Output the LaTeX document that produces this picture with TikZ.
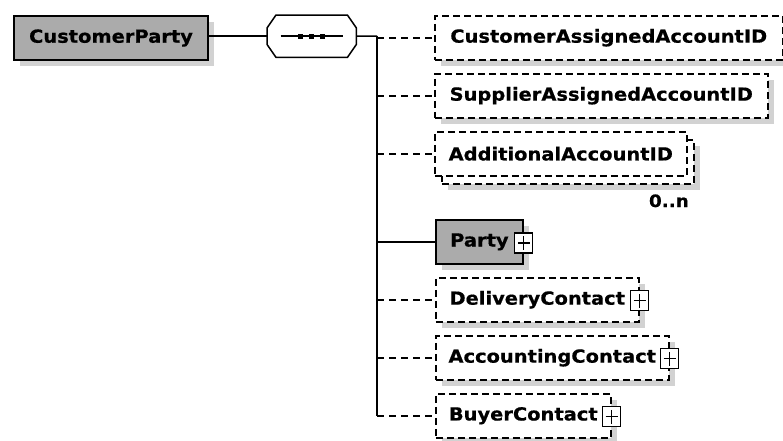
\documentclass[tikz,border=0pt]{standalone}
\usepackage{fontspec}
\usetikzlibrary{shadows,calc}
\newfontfamily\lblfont[FakeStretch=1.08, BoldFeatures={FakeBold=0.6}]{DejaVu Sans}
\definecolor{reqgrey}{HTML}{ABABAB}
\definecolor{shadowgrey}{HTML}{D2D2D2}
\tikzset{
  elem/.style={draw, line width=1.5pt, minimum height=44pt, inner sep=0pt, anchor=north west,
    font=\lblfont\bfseries\fontsize{18}{20}\selectfont,
    drop shadow={shadow xshift=6pt, shadow yshift=-6pt, fill=shadowgrey, opacity=1}},
  req/.style={elem, fill=reqgrey, line width=2pt},
  opt/.style={elem, fill=white, dash pattern=on 7pt off 4pt},
  optplain/.style={draw, line width=1.5pt, minimum height=44pt, inner sep=0pt, anchor=north west,
    font=\lblfont\bfseries\fontsize{18}{20}\selectfont, fill=white, dash pattern=on 7pt off 4pt},
  conn/.style={line width=1.5pt},
  optconn/.style={conn, dash pattern=on 7pt off 5pt},
  plusbox/.style={draw, fill=white, line width=1.2pt, minimum width=18pt, minimum height=20pt, inner sep=0pt,
    path picture={\draw[line width=1.2pt] ([xshift=3pt]path picture bounding box.west) -- ([xshift=-3pt]path picture bounding box.east);
                  \draw[line width=1.2pt] ([yshift=-3pt]path picture bounding box.north) -- ([yshift=3pt]path picture bounding box.south);}},
  mult/.style={font=\lblfont\bfseries\fontsize{17}{20}\selectfont, inner sep=0pt}
}
\begin{document}
\begin{tikzpicture}[x=1pt,y=-1pt]
\useasboundingbox (0,0) rectangle (783,440);
% root
\node[req, minimum width=194pt] (cp) at (13,15) {CustomerParty};
% sequence compositor
\node[minimum width=89pt, minimum height=42pt, inner sep=0pt, anchor=north west] (seq) at (267,15) {};
\fill[shadowgrey, shift={(7,8)}] ($(seq.north west)+(9,0)$) -- ($(seq.north east)+(-9,0)$) -- ($(seq.north east)+(0,13)$) -- ($(seq.south east)+(0,-13)$) -- ($(seq.south east)+(-9,0)$) -- ($(seq.south west)+(9,0)$) -- ($(seq.south west)+(0,-13)$) -- ($(seq.north west)+(0,13)$) -- cycle;
\draw[fill=white, line width=1.5pt] ($(seq.north west)+(9,0)$) -- ($(seq.north east)+(-9,0)$) -- ($(seq.north east)+(0,13)$) -- ($(seq.south east)+(0,-13)$) -- ($(seq.south east)+(-9,0)$) -- ($(seq.south west)+(9,0)$) -- ($(seq.south west)+(0,-13)$) -- ($(seq.north west)+(0,13)$) -- cycle;
\draw[line width=1.5pt] ($(seq.center)+(-31,0)$) -- ($(seq.center)+(31,0)$);
\foreach \dx in {-11,0,11} \fill ($(seq.center)+(\dx-2.5,-2.5)$) rectangle ($(seq.center)+(\dx+2.5,2.5)$);
% children
\node[opt, minimum width=348pt] (ca) at (434,15) {CustomerAssignedAccountID};
\node[opt, minimum width=333pt] (sa) at (434,73) {SupplierAssignedAccountID};
\node[opt, minimum width=252pt] (aab) at (441,139) {};
\node[optplain, minimum width=252pt] (aa) at (434,131) {AdditionalAccountID};
\node[mult, anchor=base east] (mn) at (689,207) {0..n};
\node[req, minimum width=87pt, line width=1.8pt] (pa) at (435,219) {Party\hspace{8pt}};
\node[plusbox] (pap) at ($(pa.east)+(0,1)$) {};
\node[opt, minimum width=203pt] (dc) at (435,277) {DeliveryContact};
\node[plusbox] (dcp) at ($(dc.east)+(0,1)$) {};
\node[opt, minimum width=233pt] (ac) at (435,335) {AccountingContact};
\node[plusbox] (acp) at ($(ac.east)+(0,1)$) {};
\node[opt, minimum width=175pt] (bc) at (435,393) {BuyerContact};
\node[plusbox] (bcp) at ($(bc.east)+(0,1)$) {};
% connectors
\coordinate (bt) at (377,36);
\draw[conn] (cp.east |- seq.west) -- (seq.west);
\draw[conn] (seq.east) -- (bt);
\draw[conn] (bt) -- (bc.west -| bt);
\draw[optconn] (ca.west -| bt) -- (ca.west);
\draw[optconn] (sa.west -| bt) -- (sa.west);
\draw[optconn] (aa.west -| bt) -- (aa.west);
\draw[conn] (pa.west -| bt) -- (pa.west);
\draw[optconn] (dc.west -| bt) -- (dc.west);
\draw[optconn] (ac.west -| bt) -- (ac.west);
\draw[optconn] (bc.west -| bt) -- (bc.west);
\end{tikzpicture}
\end{document}
